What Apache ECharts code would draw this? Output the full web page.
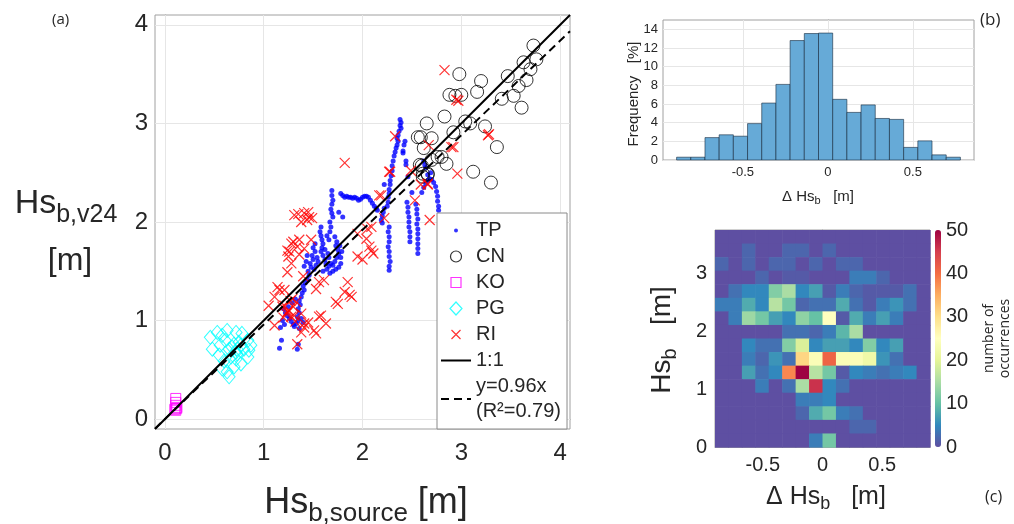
<!DOCTYPE html>
<html><head><meta charset="utf-8">
<script src="https://cdn.jsdelivr.net/npm/echarts@6/dist/echarts.min.js"></script>
<style>html,body{margin:0;padding:0;background:#fff}#c{width:1014px;height:524px}</style>
</head><body><div id="c"></div>
<script>
// ---------- (a) scatter data ----------
const tpPoints = [
[2.38,3.04],[2.39,3.01],[2.38,2.98],[2.39,2.95],[2.37,2.92],[2.36,2.88],[2.35,2.85],[2.36,2.82],[2.35,2.78],[2.34,2.75],[2.33,2.71],[2.32,2.67],[2.41,2.72],[2.43,2.82],[2.42,2.78],[2.44,2.62],[2.44,2.58],[2.41,2.70],
[2.31,2.62],[2.30,2.57],[2.30,2.52],[2.29,2.47],[2.28,2.42],[2.28,2.38],[2.27,2.33],[2.27,2.29],[2.26,2.25],[2.26,2.20],[2.25,2.16],
[2.22,2.14],[2.21,2.10],[2.20,2.06],[2.19,2.02],[2.20,1.99],[2.22,2.38],
[2.27,1.95],[2.26,1.90],[2.27,1.85],[2.27,1.80],[2.26,1.75],[2.27,1.70],[2.27,1.65],[2.28,1.60],[2.27,1.55],[2.27,1.51],
[1.78,2.29],[1.80,2.27],[1.82,2.25],[1.84,2.26],[1.86,2.25],[1.88,2.25],[1.90,2.24],[1.92,2.25],[1.94,2.24],[1.96,2.22],[1.98,2.23],[2.00,2.25],[2.02,2.26],[2.04,2.26],[2.06,2.25],[2.08,2.22],[2.10,2.19],[2.12,2.16],[2.14,2.14],[2.15,2.12],
[1.69,2.32],[1.69,2.27],[1.70,2.22],[1.69,2.18],[1.68,2.13],[1.69,2.09],[1.70,2.05],[1.67,2.00],[1.68,1.95],[1.67,1.90],[1.80,2.05],[1.76,2.10],
[1.58,1.95],[1.57,1.90],[1.58,1.86],[1.59,1.82],[1.60,1.78],[1.59,1.74],[1.58,1.70],[1.60,1.66],[1.62,1.62],
[1.64,1.86],[1.66,1.82],[1.72,1.85],[1.74,1.80],[1.73,1.76],[1.75,1.72],[1.76,1.68],[1.74,1.64],[1.72,1.60],[1.70,1.56],[1.68,1.58],[1.66,1.55],[1.64,1.52],[1.67,1.48],[1.70,1.50],[1.73,1.52],[1.76,1.54],[1.78,1.58],[1.78,1.64],[1.79,1.70],[1.77,1.76],[1.62,1.72],[1.65,1.68],[1.66,1.64],[1.63,1.58],[1.60,1.50],
[1.52,1.78],[1.50,1.74],[1.52,1.70],[1.49,1.66],[1.50,1.62],[1.47,1.58],[1.48,1.54],[1.45,1.50],[1.46,1.46],[1.44,1.42],[1.42,1.38],[1.40,1.35],[1.41,1.31],[1.39,1.28],[1.38,1.24],[1.36,1.20],[1.37,1.16],[1.35,1.12],[1.36,1.08],[1.34,1.04],[1.35,1.00],[1.33,0.97],[1.31,0.94],[1.55,1.60],[1.53,1.56],[1.51,1.52],[1.54,1.64],[1.43,1.60],[1.44,1.66],[1.41,1.55],
[1.20,1.12],[1.22,1.08],[1.24,1.05],[1.26,1.02],[1.28,0.99],[1.30,0.96],[1.19,1.00],[1.17,0.93],[1.21,0.96],[1.25,1.14],[1.29,1.18],[1.32,1.22],[1.38,1.02],[1.40,0.98],[1.36,0.92],
[1.16,0.72],[1.34,0.71],[1.35,0.76],[1.18,0.80],
[2.45,2.20],[2.46,2.15],[2.46,2.10],[2.47,2.05],[2.47,2.00],[2.47,1.95],[2.48,1.90],[2.48,1.85],[2.48,1.80],[2.46,2.46],[2.50,2.30],
[2.54,2.18],[2.55,2.13],[2.55,2.08],[2.56,2.03],[2.55,1.98],[2.56,1.93],[2.56,1.88],[2.56,1.83],[2.56,1.78],[2.56,1.73],[2.56,1.68],
[2.60,2.30],[2.62,2.35],[2.64,2.39],[2.66,2.42],[2.68,2.44],[2.70,2.43],[2.72,2.40],[2.74,2.36],[2.75,2.31],[2.76,2.26],[2.76,2.21],[2.77,2.16],[2.77,2.12],[2.66,2.48],[2.64,2.55],[2.62,2.62],[2.63,2.58],[2.69,2.50]
];
const cnPoints = [
[3.73,3.79],[3.63,3.62],[3.76,3.65],[3.47,3.48],[3.66,3.44],[3.70,3.55],[3.58,3.38],[3.53,3.28],[3.41,3.25],[3.61,3.16],
[2.98,3.50],[3.20,3.43],[3.16,3.32],[2.88,3.29],[2.94,3.28],[3.00,3.29],[2.83,3.07],[2.65,3.00],[3.04,3.02],[3.09,3.00],
[3.24,2.97],[2.92,2.91],[2.59,2.86],[2.70,2.85],[3.36,2.76],[2.62,2.75],[2.76,2.66],[2.85,2.59],[2.80,2.66],[2.60,2.57],
[2.66,2.48],[2.61,2.46],[3.12,2.51],[3.30,2.40],[2.61,2.49],[2.66,2.49],[2.58,2.58],[2.56,2.86],[2.70,2.63]
];
const koPoints = [[0.11,0.21],[0.11,0.17],[0.11,0.14],[0.12,0.12],[0.10,0.10],[0.11,0.09],[0.12,0.11]];
const pgPoints = [
[0.46,0.83],[0.53,0.88],[0.58,0.85],[0.63,0.90],[0.72,0.88],[0.78,0.87],[0.84,0.80],[0.87,0.75],[0.48,0.71],[0.56,0.75],
[0.65,0.71],[0.70,0.76],[0.75,0.78],[0.80,0.71],[0.73,0.66],[0.67,0.63],[0.60,0.59],[0.55,0.65],[0.58,0.51],[0.63,0.48],
[0.70,0.53],[0.77,0.56],[0.84,0.63],[0.65,0.43],[0.72,0.68],[0.61,0.80],[0.68,0.73],[0.73,0.71],[0.77,0.75],[0.72,0.61],[0.85,0.70]
];
const riPoints = [
[2.83,3.54],[2.97,3.23],[3.28,2.89],[2.90,2.76],[2.67,2.78],[2.96,2.49],[2.33,2.87],[2.27,2.51],[2.49,2.52],[2.59,2.38],
[2.66,2.38],[2.53,2.22],[1.82,2.60],[2.68,2.02],[2.17,2.27],[2.22,2.04],[2.09,1.95],[1.95,1.88],[2.04,1.83],[2.07,1.75],
[2.11,1.68],[1.95,1.65],[2.00,1.62],[1.31,2.07],[1.41,2.09],[1.46,2.05],[1.38,2.00],[1.44,2.02],[1.49,2.04],[1.28,1.78],
[1.34,1.75],[1.26,1.70],[1.41,1.73],[1.48,1.82],[1.28,1.58],[1.24,1.49],[1.36,1.67],[1.14,1.34],[1.16,1.31],[1.85,1.39],
[1.82,1.29],[1.87,1.26],[1.73,1.19],[1.61,1.41],[1.53,1.32],[1.05,1.15],[1.21,1.15],[1.25,1.10],[1.30,1.14],[1.28,1.04],
[1.32,0.99],[1.23,1.07],[1.38,1.07],[1.11,0.95],[1.41,0.93],[1.51,0.90],[1.56,1.04],[1.63,0.97],[1.34,0.76],[1.24,1.71],
[1.36,1.82],[1.11,1.24],[1.21,1.31],[1.19,1.14],[1.24,1.09],[1.31,1.05],[1.38,0.88],[1.53,0.87],[1.58,1.05],[1.41,0.97],
[1.75,1.17],[1.89,1.24],[2.09,1.71],[2.05,1.93],[2.19,2.27],[2.28,2.51],[2.66,2.39],[2.92,2.76],[2.95,3.24],[3.27,2.88],
[1.56,1.39],[1.29,1.22],[1.33,1.19],[1.27,1.20],[1.35,2.08],[1.45,2.10],[1.30,1.80],[1.25,1.65],[1.40,1.45],[1.20,1.03],[1.45,0.98]
];
const lineX = [-0.1, 4.1];
const oneToOneY = [-0.1, 4.1];
const fitY = [-0.096, 3.936];
const mainTicks = [0, 1, 2, 3, 4];

// ---------- (b) histogram data ----------
const histEdges = [-0.89,-0.8065,-0.723,-0.6395,-0.556,-0.4725,-0.389,-0.3055,-0.222,-0.1385,-0.055,0.0285,0.112,0.1955,0.279,0.3625,0.446,0.5295,0.613,0.6965,0.78];
const histFreq = [0.3,0.3,2.4,2.7,2.55,3.9,6.1,8.1,12.8,13.55,13.6,6.5,5.1,5.9,4.45,4.35,1.35,2.05,0.55,0.3];
const histXTicks = [-0.5, 0, 0.5];
const histYTicks = [0, 2, 4, 6, 8, 10, 12, 14];

// ---------- (c) 2-D histogram data ----------
const heatXEdges = [-0.9,-0.7875,-0.675,-0.5625,-0.45,-0.3375,-0.225,-0.1125,0,0.1125,0.225,0.3375,0.45,0.5625,0.675,0.7875,0.9];
const heatYEdges = [0,0.234,0.469,0.703,0.938,1.172,1.406,1.641,1.875,2.109,2.344,2.578,2.813,3.047,3.281,3.516,3.75];
// rows listed from top (highest Hs_b) to bottom
const heatCounts = [
[0,0,0,0,0,0,0,0,0,0,0,0,0,0,0,0],
[0,0,2,0,0,2,2,0,2,0,0,0,0,0,0,0],
[2,0,2,0,2,2,0,2,0,2,2,0,0,0,0,0],
[0,0,0,2,0,1,1,0,0,0,4,4,2,0,0,0],
[0,3,5,5,12,15,5,7,1,4,2,1,1,1,3,0],
[4,4,8,5,16,11,2,3,3,8,3,1,4,6,3,0],
[0,4,14,11,7,5,13,10,25,1,8,4,7,4,0,0],
[0,0,0,0,0,3,3,2,4,9,15,0,0,0,0,0],
[0,0,5,3,3,12,19,5,7,7,5,12,5,7,0,0],
[0,0,4,2,6,3,31,24,41,24,24,22,6,3,0,0],
[0,0,7,3,5,38,50,16,11,1,5,4,3,4,5,0],
[0,0,0,4,0,3,15,46,5,3,0,0,0,0,0,0],
[0,0,0,0,0,0,4,4,5,0,0,0,0,0,0,0],
[0,0,0,0,0,0,2,8,11,4,3,0,0,0,0,0],
[0,0,0,0,0,0,0,0,0,0,2,2,0,0,0,0],
[0,0,0,0,0,0,0,4,11,0,0,0,0,0,0,0]
];
const heatXTicks = [-0.5, 0, 0.5];
const heatYTicks = [0, 1, 2, 3];
const cbarTicks = [0, 10, 20, 30, 40, 50];

// ---------- build ----------
const FONT = 'Liberation Sans, Arial, sans-serif';
const TXT = '#262626';
const AX = '#a0a0a0';
const GRIDC = '#e6e6e6';

const histData = histFreq.map((f, i) => [histEdges[i], histEdges[i + 1], f]);
const heatData = [];
const nRows = heatCounts.length;
heatCounts.forEach((row, t) => {
  const r = nRows - 1 - t;
  row.forEach((v, c) => heatData.push([heatXEdges[c], heatXEdges[c + 1], heatYEdges[r], heatYEdges[r + 1], v]));
});

function valAxis(grid, min, max, ticks, fs, margin) {
  return {
    type: 'value', gridIndex: grid, min: min, max: max,
    axisLine: {show: true, lineStyle: {color: AX, width: 1}},
    axisTick: {show: true, inside: true, length: 4, customValues: ticks, lineStyle: {color: AX}},
    axisLabel: {customValues: ticks, fontSize: fs, color: TXT, fontFamily: FONT, margin: margin},
    splitLine: {show: false}
  };
}
function gridLines(xi, yi, xt, yt) {
  return {
    type: 'line', xAxisIndex: xi, yAxisIndex: yi, data: [], z: 1, silent: true,
    markLine: {silent: true, symbol: 'none', animation: false, label: {show: false}, z: 1,
      lineStyle: {color: GRIDC, width: 1, type: 'solid'},
      emphasis: {disabled: true},
      data: xt.map(v => ({xAxis: v})).concat(yt.map(v => ({yAxis: v})))}
  };
}

const iconBox = 'M0,0M30,14';
const option = {
  animation: false,
  backgroundColor: '#fff',
  grid: [
    {left: 155, top: 15, width: 415, height: 414, show: true, borderColor: AX, borderWidth: 1},
    {left: 663, top: 20, width: 311, height: 140, show: true, borderColor: AX, borderWidth: 1},
    {left: 715, top: 230, width: 215, height: 217, show: true, borderColor: AX, borderWidth: 1},
    {left: 935, top: 230, width: 6, height: 217, show: false}
  ],
  xAxis: [
    valAxis(0, -0.1, 4.1, mainTicks, 24, 12),
    valAxis(1, -0.97, 0.86, histXTicks, 13, 6),
    valAxis(2, -0.9, 0.9, heatXTicks, 20, 8),
    {type: 'value', gridIndex: 3, min: 0, max: 1, show: false}
  ],
  yAxis: [
    valAxis(0, -0.1, 4.1, mainTicks, 24, 7),
    valAxis(1, 0, 15, histYTicks, 13, 5),
    valAxis(2, 0, 3.75, heatYTicks, 20, 8),
    {type: 'value', gridIndex: 3, min: 0, max: 50, position: 'right',
     axisLine: {show: false}, axisTick: {show: false}, splitLine: {show: false},
     axisLabel: {customValues: cbarTicks, fontSize: 20, color: TXT, fontFamily: FONT, margin: 7},
     name: 'number of\noccurrences', nameLocation: 'middle', nameRotate: 90, nameGap: 42,
     nameTextStyle: {fontSize: 14, color: TXT, fontFamily: 'Open Sans, sans-serif', lineHeight: 16}}
  ],
  legend: {
    orient: 'vertical', left: 437, top: 213, z: 6,
    backgroundColor: '#fff', borderColor: '#8a8a8a', borderWidth: 1,
    padding: [5, 6, 5, 3], itemGap: 1, itemWidth: 30, itemHeight: 14,
    textStyle: {fontSize: 20, color: TXT, fontFamily: FONT, lineHeight: 25},
    itemStyle: {borderWidth: 1.2},
    data: [
      {name: 'TP', icon: 'path://' + iconBox + 'M17,7A2,2 0 1,0 13,7A2,2 0 1,0 17,7Z'},
      {name: 'CN', icon: 'path://' + iconBox + 'M20.5,7A5.5,5.5 0 1,0 9.5,7A5.5,5.5 0 1,0 20.5,7Z'},
      {name: 'KO', icon: 'path://' + iconBox + 'M10,2H20V12H10Z'},
      {name: 'PG', icon: 'path://' + iconBox + 'M15,0.5L21,7L15,13.5L9,7Z'},
      {name: 'RI', icon: 'path://' + iconBox + 'M10.5,2.5L19.5,11.5M19.5,2.5L10.5,11.5'},
      {name: '1:1', itemStyle: {opacity: 0}},
      {name: 'y=0.96x\n(R²=0.79)', itemStyle: {opacity: 0}}
    ]
  },
  visualMap: {
    type: 'continuous', min: 0, max: 50, dimension: 4, seriesIndex: 7,
    left: 935, top: 230, itemWidth: 6, itemHeight: 217, padding: 0,
    calculable: false, hoverLink: false, text: null, showLabel: false,
    inRange: {color: ['#5e4fa2','#3288bd','#66c2a5','#abdda4','#e6f598','#ffffbf','#fee08b','#fdae61','#f46d43','#d53e4f','#9e0142']}
  },
  series: [
    {name: 'TP', type: 'scatter', xAxisIndex: 0, yAxisIndex: 0, data: tpPoints, symbol: 'circle', symbolSize: 5,
     itemStyle: {color: '#0000ff'}, z: 2, silent: true},
    {name: 'CN', type: 'scatter', xAxisIndex: 0, yAxisIndex: 0, data: cnPoints, symbol: 'circle', symbolSize: 13,
     itemStyle: {color: 'rgba(0,0,0,0)', borderColor: '#000', borderWidth: 1}, z: 3, silent: true},
    {name: 'KO', type: 'scatter', xAxisIndex: 0, yAxisIndex: 0, data: koPoints, symbol: 'rect', symbolSize: 10,
     itemStyle: {color: 'rgba(0,0,0,0)', borderColor: '#ff00ff', borderWidth: 1}, z: 3, silent: true},
    {name: 'PG', type: 'scatter', xAxisIndex: 0, yAxisIndex: 0, data: pgPoints, symbol: 'diamond', symbolSize: [12, 14],
     itemStyle: {color: 'rgba(0,0,0,0)', borderColor: '#00ffff', borderWidth: 1}, z: 3, silent: true},
    {name: 'RI', type: 'scatter', xAxisIndex: 0, yAxisIndex: 0, data: riPoints, symbol: 'path://M0,0L10,10M10,0L0,10', symbolSize: 10,
     itemStyle: {color: 'rgba(0,0,0,0)', borderColor: '#ff0000', borderWidth: 1.2}, z: 4, silent: true},
    {name: '1:1', type: 'line', xAxisIndex: 0, yAxisIndex: 0, data: lineX.map((x, i) => [x, oneToOneY[i]]),
     symbol: 'none', lineStyle: {color: '#000', width: 2}, itemStyle: {color: '#000'}, z: 5, silent: true},
    {name: 'y=0.96x\n(R²=0.79)', type: 'line', xAxisIndex: 0, yAxisIndex: 0, data: lineX.map((x, i) => [x, fitY[i]]),
     symbol: 'none', lineStyle: {color: '#000', width: 2, type: [8, 5]}, itemStyle: {color: '#000'}, z: 5, silent: true},
    {name: 'heat', type: 'custom', xAxisIndex: 2, yAxisIndex: 2, data: heatData, silent: true,
     encode: {x: [0, 1], y: [2, 3]},
     renderItem: function (params, api) {
       const p0 = api.coord([api.value(0), api.value(3)]);
       const p1 = api.coord([api.value(1), api.value(2)]);
       return {type: 'rect', shape: {x: p0[0], y: p0[1], width: p1[0] - p0[0] + 0.6, height: p1[1] - p0[1] + 0.6},
               style: {fill: api.visual('color')}};
     }},
    {name: 'hist', type: 'custom', xAxisIndex: 1, yAxisIndex: 1, data: histData, silent: true, z: 3,
     encode: {x: [0, 1], y: 2},
     renderItem: function (params, api) {
       const p0 = api.coord([api.value(0), api.value(2)]);
       const p1 = api.coord([api.value(1), 0]);
       return {type: 'rect', shape: {x: p0[0], y: p0[1], width: p1[0] - p0[0], height: p1[1] - p0[1]},
               style: {fill: '#66aad7', stroke: 'rgba(20,40,60,0.75)', lineWidth: 0.8}};
     }},
    gridLines(0, 0, mainTicks, mainTicks),
    gridLines(1, 1, histXTicks, histYTicks)
  ],
  graphic: [
    {type: 'text', left: 52, top: 12, style: {text: '(a)', fontSize: 15, fill: TXT, fontFamily: 'Open Sans, sans-serif'}},
    {type: 'text', left: 980, top: 12, style: {text: '(b)', fontSize: 17, fill: TXT, fontFamily: 'Open Sans, sans-serif'}},
    {type: 'text', left: 985, top: 489, style: {text: '(c)', fontSize: 16, fill: TXT, fontFamily: 'Open Sans, sans-serif'}},
    {type: 'text', x: 66, y: 204, style: {text: '{h|Hs}{s|b,v24}', x: 0, y: 0, align: 'center', verticalAlign: 'middle', fill: TXT,
      rich: {h: {fontSize: 34, fontFamily: FONT, fill: TXT}, s: {fontSize: 25, fontFamily: FONT, fill: TXT, padding: [22, 0, 0, 0]}}}},
    {type: 'text', x: 70, y: 261, style: {text: '[m]', x: 0, y: 0, align: 'center', verticalAlign: 'middle', fontSize: 32, fontFamily: FONT, fill: TXT}},
    {type: 'text', x: 366, y: 503, style: {text: '{h|Hs}{s|b,source}{h| [m]}', x: 0, y: 0, align: 'center', verticalAlign: 'middle', fill: TXT,
      rich: {h: {fontSize: 36, fontFamily: FONT, fill: TXT}, s: {fontSize: 26, fontFamily: FONT, fill: TXT, padding: [22, 0, 0, 0]}}}},
    {type: 'text', x: 634, y: 94, rotation: Math.PI / 2, style: {text: 'Frequency   [%]', x: 0, y: 0, align: 'center', verticalAlign: 'middle', fontSize: 15, fontFamily: FONT, fill: TXT}},
    {type: 'text', x: 818, y: 197, style: {text: '{h|Δ Hs}{s|b}{h|   [m]}', x: 0, y: 0, align: 'center', verticalAlign: 'middle', fill: TXT,
      rich: {h: {fontSize: 15, fontFamily: FONT, fill: TXT}, s: {fontSize: 11, fontFamily: FONT, fill: TXT, padding: [8, 0, 0, 0]}}}},
    {type: 'text', x: 662, y: 340, rotation: Math.PI / 2, style: {text: '{h|Hs}{s|b}{h|   [m]}', x: 0, y: 0, align: 'center', verticalAlign: 'middle', fill: TXT,
      rich: {h: {fontSize: 28, fontFamily: FONT, fill: TXT}, s: {fontSize: 20, fontFamily: FONT, fill: TXT, padding: [16, 0, 0, 0]}}}},
    {type: 'text', x: 826, y: 497, style: {text: '{h|Δ Hs}{s|b}{h|   [m]}', x: 0, y: 0, align: 'center', verticalAlign: 'middle', fill: TXT,
      rich: {h: {fontSize: 25, fontFamily: FONT, fill: TXT}, s: {fontSize: 18, fontFamily: FONT, fill: TXT, padding: [14, 0, 0, 0]}}}}
  ]
};
const chart = echarts.init(document.getElementById('c'));
chart.setOption(option);
</script></body></html>
